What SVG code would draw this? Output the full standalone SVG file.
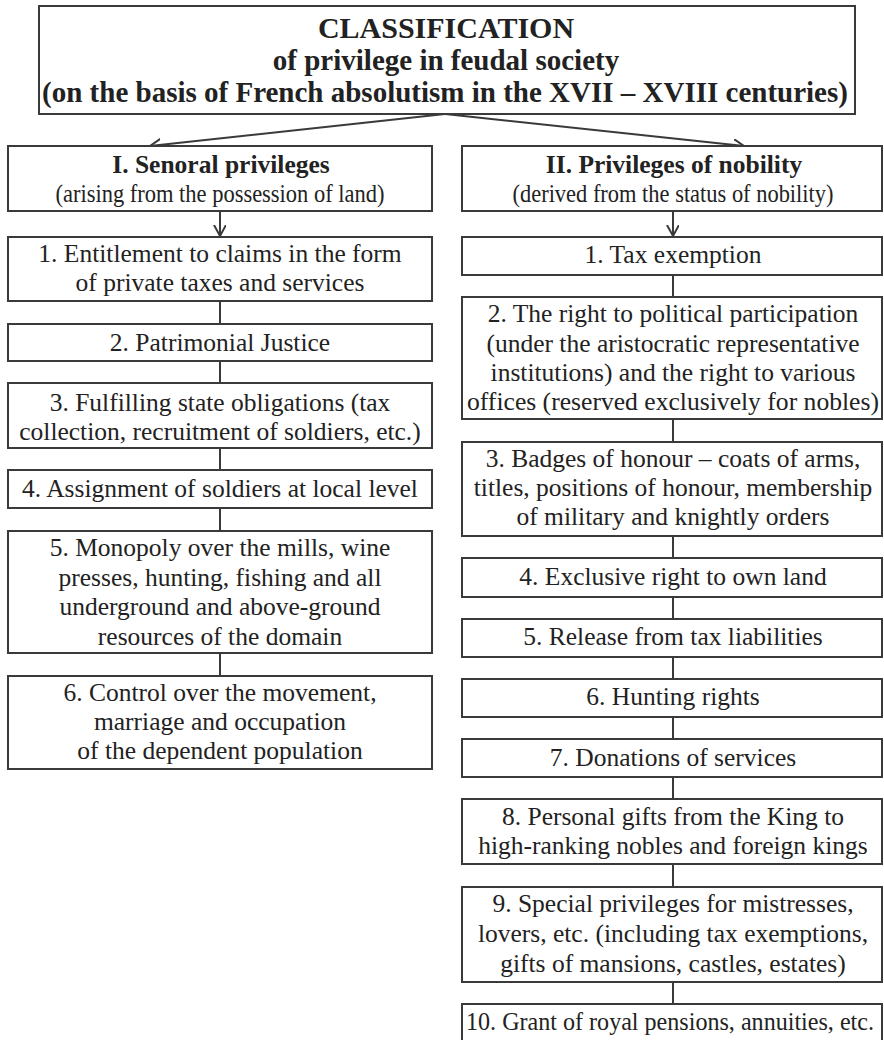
<svg xmlns="http://www.w3.org/2000/svg" width="884" height="1040" viewBox="0 0 884 1040">
  <style>
    .box { fill: #ffffff; stroke: #3a3a3a; stroke-width: 2; }
    .link { fill: none; stroke: #3a3a3a; stroke-width: 2; }
    text { font-family: "Liberation Serif", "Times New Roman", serif; fill: #222222; text-anchor: middle; }
    .title { font-size: 29px; font-weight: bold; }
    .big { font-size: 30px; }
    .head { font-size: 25.5px; font-weight: bold; }
    .sub { font-size: 25.5px; }
    .item { font-size: 25.5px; }
  </style>
  <defs>
    <marker id="arrow" markerUnits="userSpaceOnUse" markerWidth="14" markerHeight="14" refX="11" refY="6" orient="auto">
      <path d="M0,0 L11,6 L0,12" fill="none" stroke="#3a3a3a" stroke-width="2"/>
    </marker>
  </defs>
  <rect width="884" height="1040" fill="#ffffff"/>

  <!-- connectors -->
  <g id="connectors">
    <line class="link" x1="445" y1="114" x2="150" y2="146" marker-end="url(#arrow)"/>
    <line class="link" x1="445" y1="114" x2="744" y2="146" marker-end="url(#arrow)"/>
    <line class="link" x1="220" y1="211" x2="220" y2="236" marker-end="url(#arrow)"/>
    <line class="link" x1="673" y1="211" x2="673" y2="236" marker-end="url(#arrow)"/>
    <!-- left chain -->
    <line class="link" x1="220" y1="301" x2="220" y2="324"/>
    <line class="link" x1="220" y1="361" x2="220" y2="383"/>
    <line class="link" x1="220" y1="448" x2="220" y2="470"/>
    <line class="link" x1="220" y1="508" x2="220" y2="531"/>
    <line class="link" x1="220" y1="653" x2="220" y2="676"/>
    <!-- right chain -->
    <line class="link" x1="673" y1="275" x2="673" y2="297"/>
    <line class="link" x1="673" y1="419" x2="673" y2="442"/>
    <line class="link" x1="673" y1="536" x2="673" y2="558"/>
    <line class="link" x1="673" y1="597" x2="673" y2="619"/>
    <line class="link" x1="673" y1="657" x2="673" y2="679"/>
    <line class="link" x1="673" y1="717" x2="673" y2="739"/>
    <line class="link" x1="673" y1="777" x2="673" y2="799"/>
    <line class="link" x1="673" y1="864" x2="673" y2="887"/>
    <line class="link" x1="673" y1="982" x2="673" y2="1004"/>
  </g>

  <!-- title -->
  <g id="title">
    <rect class="box" x="39" y="6" width="816" height="108"/>
    <text class="title big" x="446" y="38">CLASSIFICATION</text>
    <text class="title" x="446" y="70">of privilege in feudal society</text>
    <text class="title" x="445" y="102">(on the basis of French absolutism in the XVII – XVIII centuries)</text>
  </g>

  <!-- seigneurial branch -->
  <g id="senoral">
    <rect class="box" x="8" y="146" width="424" height="65"/>
    <text class="head" x="221" y="173">I. Senoral privileges</text>
    <text class="sub" x="220" y="202" textLength="329" lengthAdjust="spacingAndGlyphs">(arising from the possession of land)</text>
  </g>
  <g id="s1">
    <rect class="box" x="8" y="237" width="424" height="64"/>
    <text class="item" x="220" y="262">1. Entitlement to claims in the form</text>
    <text class="item" x="220" y="291">of private taxes and services</text>
  </g>
  <g id="s2">
    <rect class="box" x="8" y="324" width="424" height="37"/>
    <text class="item" x="220" y="351">2. Patrimonial Justice</text>
  </g>
  <g id="s3">
    <rect class="box" x="8" y="383" width="424" height="65"/>
    <text class="item" x="220" y="411">3. Fulfilling state obligations (tax</text>
    <text class="item" x="220" y="440">collection, recruitment of soldiers, etc.)</text>
  </g>
  <g id="s4">
    <rect class="box" x="8" y="470" width="424" height="38"/>
    <text class="item" x="220" y="497">4. Assignment of soldiers at local level</text>
  </g>
  <g id="s5">
    <rect class="box" x="8" y="531" width="424" height="122"/>
    <text class="item" x="220" y="556">5. Monopoly over the mills, wine</text>
    <text class="item" x="220" y="586">presses, hunting, fishing and all</text>
    <text class="item" x="220" y="615">underground and above-ground</text>
    <text class="item" x="220" y="645">resources of the domain</text>
  </g>
  <g id="s6">
    <rect class="box" x="8" y="676" width="424" height="93"/>
    <text class="item" x="220" y="701">6. Control over the movement,</text>
    <text class="item" x="220" y="730">marriage and occupation</text>
    <text class="item" x="220" y="759">of the dependent population</text>
  </g>

  <!-- nobility branch -->
  <g id="nobility">
    <rect class="box" x="462" y="146" width="420" height="65"/>
    <text class="head" x="674" y="173">II. Privileges of nobility</text>
    <text class="sub" x="673" y="202" textLength="321" lengthAdjust="spacingAndGlyphs">(derived from the status of nobility)</text>
  </g>
  <g id="n1">
    <rect class="box" x="462" y="237" width="420" height="38"/>
    <text class="item" x="673" y="263">1. Tax exemption</text>
  </g>
  <g id="n2">
    <rect class="box" x="462" y="297" width="420" height="122"/>
    <text class="item" x="673" y="322">2. The right to political participation</text>
    <text class="item" x="673" y="352">(under the aristocratic representative</text>
    <text class="item" x="673" y="381">institutions) and the right to various</text>
    <text class="item" x="673" y="410" textLength="412" lengthAdjust="spacingAndGlyphs">offices (reserved exclusively for nobles)</text>
  </g>
  <g id="n3">
    <rect class="box" x="462" y="442" width="420" height="94"/>
    <text class="item" x="673" y="467">3. Badges of honour – coats of arms,</text>
    <text class="item" x="673" y="496">titles, positions of honour, membership</text>
    <text class="item" x="673" y="525">of military and knightly orders</text>
  </g>
  <g id="n4">
    <rect class="box" x="462" y="558" width="420" height="39"/>
    <text class="item" x="673" y="585">4. Exclusive right to own land</text>
  </g>
  <g id="n5">
    <rect class="box" x="462" y="619" width="420" height="38"/>
    <text class="item" x="673" y="645">5. Release from tax liabilities</text>
  </g>
  <g id="n6">
    <rect class="box" x="462" y="679" width="420" height="38"/>
    <text class="item" x="673" y="705">6. Hunting rights</text>
  </g>
  <g id="n7">
    <rect class="box" x="462" y="739" width="420" height="38"/>
    <text class="item" x="673" y="766">7. Donations of services</text>
  </g>
  <g id="n8">
    <rect class="box" x="462" y="799" width="420" height="65"/>
    <text class="item" x="673" y="825">8. Personal gifts from the King to</text>
    <text class="item" x="673" y="854">high-ranking nobles and foreign kings</text>
  </g>
  <g id="n9">
    <rect class="box" x="462" y="887" width="420" height="95"/>
    <text class="item" x="673" y="912">9. Special privileges for mistresses,</text>
    <text class="item" x="673" y="942">lovers, etc. (including tax exemptions,</text>
    <text class="item" x="673" y="972">gifts of mansions, castles, estates)</text>
  </g>
  <g id="n10">
    <rect class="box" x="462" y="1004" width="420" height="45"/>
    <text class="item" x="670" y="1030" textLength="408" lengthAdjust="spacingAndGlyphs">10. Grant of royal pensions, annuities, etc.</text>
  </g>
</svg>
